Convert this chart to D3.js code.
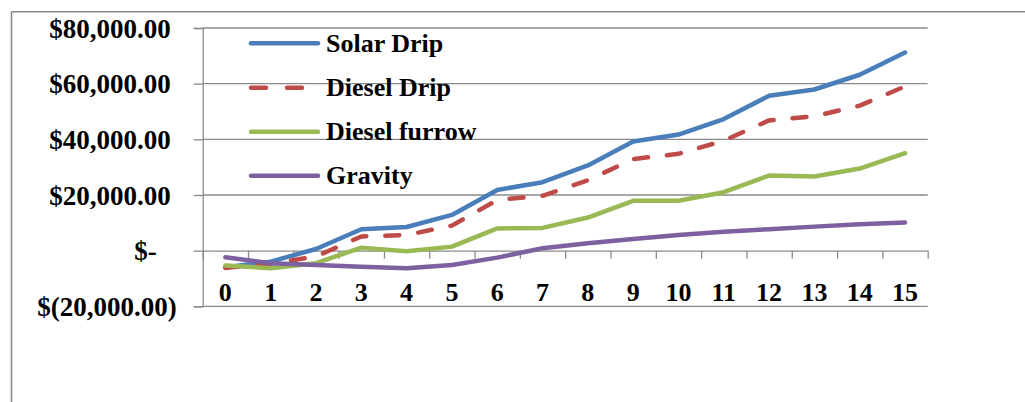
<!DOCTYPE html>
<html>
<head>
<meta charset="utf-8">
<script src="https://cdn.jsdelivr.net/npm/d3@7"></script>
<style>
  html, body { margin: 0; padding: 0; background: #fff; }
  svg { display: block; }
  text { font-family: "Liberation Serif", "Times New Roman", serif; font-weight: bold; fill: #000; }
</style>
</head>
<body>
<svg id="chart" width="1025" height="402"></svg>
<script>
const categories = ["0","1","2","3","4","5","6","7","8","9","10","11","12","13","14","15"];
const solarDrip   = [-6000, -3950, 600, 7700, 8500, 12840, 21800, 24600, 30600, 39200, 41700, 47300, 55650, 57900, 63200, 71200];
const dieselDrip  = [-6200, -4700, -2100, 5100, 5600, 9000, 18200, 19700, 25300, 32900, 34800, 39500, 46800, 48300, 52100, 59000];
const dieselFurrow= [-5300, -6300, -4500, 1080, -200, 1440, 8000, 8170, 11900, 17900, 17900, 21000, 27000, 26620, 29500, 35030];
const gravity     = [-2400, -4500, -5140, -5750, -6330, -5140, -2500, 860, 2660, 4210, 5650, 6830, 7700, 8630, 9500, 10070];
const seriesNames = ["Solar Drip", "Diesel Drip", "Diesel furrow", "Gravity"];
const seriesColors = ["#4A7EBB", "#BE4B48", "#98B954", "#7D60A0"];
const yTicks = [-20000, 0, 20000, 40000, 60000, 80000];

const series = [solarDrip, dieselDrip, dieselFurrow, gravity];

const svg = d3.select("#chart");
const L = 202.7, R = 927.7, T = 28, B = 306.3;

// outer frame
svg.append("line").attr("x1", 11.5).attr("x2", 1025).attr("y1", 11.7).attr("y2", 11.7)
  .attr("stroke", "#8a8a8a").attr("stroke-width", 1.6);
svg.append("line").attr("x1", 11.5).attr("x2", 11.5).attr("y1", 11.7).attr("y2", 402)
  .attr("stroke", "#8a8a8a").attr("stroke-width", 1.6);

const x = d3.scaleBand().domain(categories).range([L, R]);
const xb = d3.scaleLinear().domain([0, categories.length]).range([L, R]);
const y = d3.scaleLinear().domain([-20000, 80000]).range([B, T]);

// gridlines + y axis
const fmt = v => {
  if (v === 0) return "$-";
  const s = d3.format(",.2f")(Math.abs(v));
  return v < 0 ? "$(" + s + ")" : "$" + s;
};
const yAxis = svg.append("g").attr("transform", `translate(${L},0)`)
  .call(d3.axisLeft(y).tickValues(yTicks).tickFormat(fmt).tickSize(9).tickPadding(22));
yAxis.select(".domain").attr("stroke", "#8a8a8a").attr("stroke-width", 1.3);
yAxis.selectAll(".tick line").attr("stroke", "#8a8a8a").attr("stroke-width", 1.3);
yAxis.selectAll(".tick text")
  .attr("font-size", 27).attr("font-family", "Liberation Serif").attr("font-weight", "bold")
  .attr("fill", "#000")
  .attr("dy", "0.34em")
  .attr("x", d => d === 0 ? -46 : (d < 0 ? -26 : -32));

svg.append("g").selectAll("line").data(yTicks.filter(v => v !== 0)).join("line")
  .attr("x1", L).attr("x2", R).attr("y1", d => y(d)).attr("y2", d => y(d))
  .attr("stroke", "#8a8a8a").attr("stroke-width", 1.3);

// x axis at zero: boundary tick marks
const xTickAxis = svg.append("g").attr("transform", `translate(0,${y(0)})`)
  .call(d3.axisBottom(xb).tickValues(d3.range(categories.length + 1)).tickFormat("").tickSize(8).tickSizeOuter(0));
xTickAxis.select(".domain").attr("stroke", "#8a8a8a").attr("stroke-width", 1.3);
xTickAxis.selectAll(".tick line").attr("stroke", "#8a8a8a").attr("stroke-width", 1.3);

const xLabelAxis = svg.append("g").attr("transform", `translate(0,${y(0)})`)
  .call(d3.axisBottom(x).tickSize(0).tickPadding(32));
xLabelAxis.select(".domain").remove();
xLabelAxis.selectAll(".tick text")
  .attr("font-size", 26).attr("font-family", "Liberation Serif").attr("font-weight", "bold")
  .attr("fill", "#000");

// lines
const line = d3.line().x((d, i) => x(categories[i]) + x.bandwidth() / 2).y(d => y(d));
series.forEach((s, i) => {
  svg.append("path").datum(s)
    .attr("d", line)
    .attr("fill", "none")
    .attr("stroke", seriesColors[i])
    .attr("stroke-width", 4.5)
    .attr("stroke-linejoin", "round")
    .attr("stroke-linecap", "round")
    .attr("stroke-dasharray", i === 1 ? "14,19" : null);
});

// legend
const legendY = [43.3, 87.7, 131.7, 175.7];
const lg = svg.append("g");
seriesNames.forEach((n, i) => {
  lg.append("line").attr("x1", 251).attr("x2", 318).attr("y1", legendY[i]).attr("y2", legendY[i])
    .attr("stroke", seriesColors[i]).attr("stroke-width", 4.5)
    .attr("stroke-linecap", "round")
    .attr("stroke-dasharray", i === 1 ? "15,21" : null);
  lg.append("text").attr("x", 326).attr("y", legendY[i]).attr("dy", "0.33em")
    .attr("font-size", 26).text(n);
});
</script>
</body>
</html>
